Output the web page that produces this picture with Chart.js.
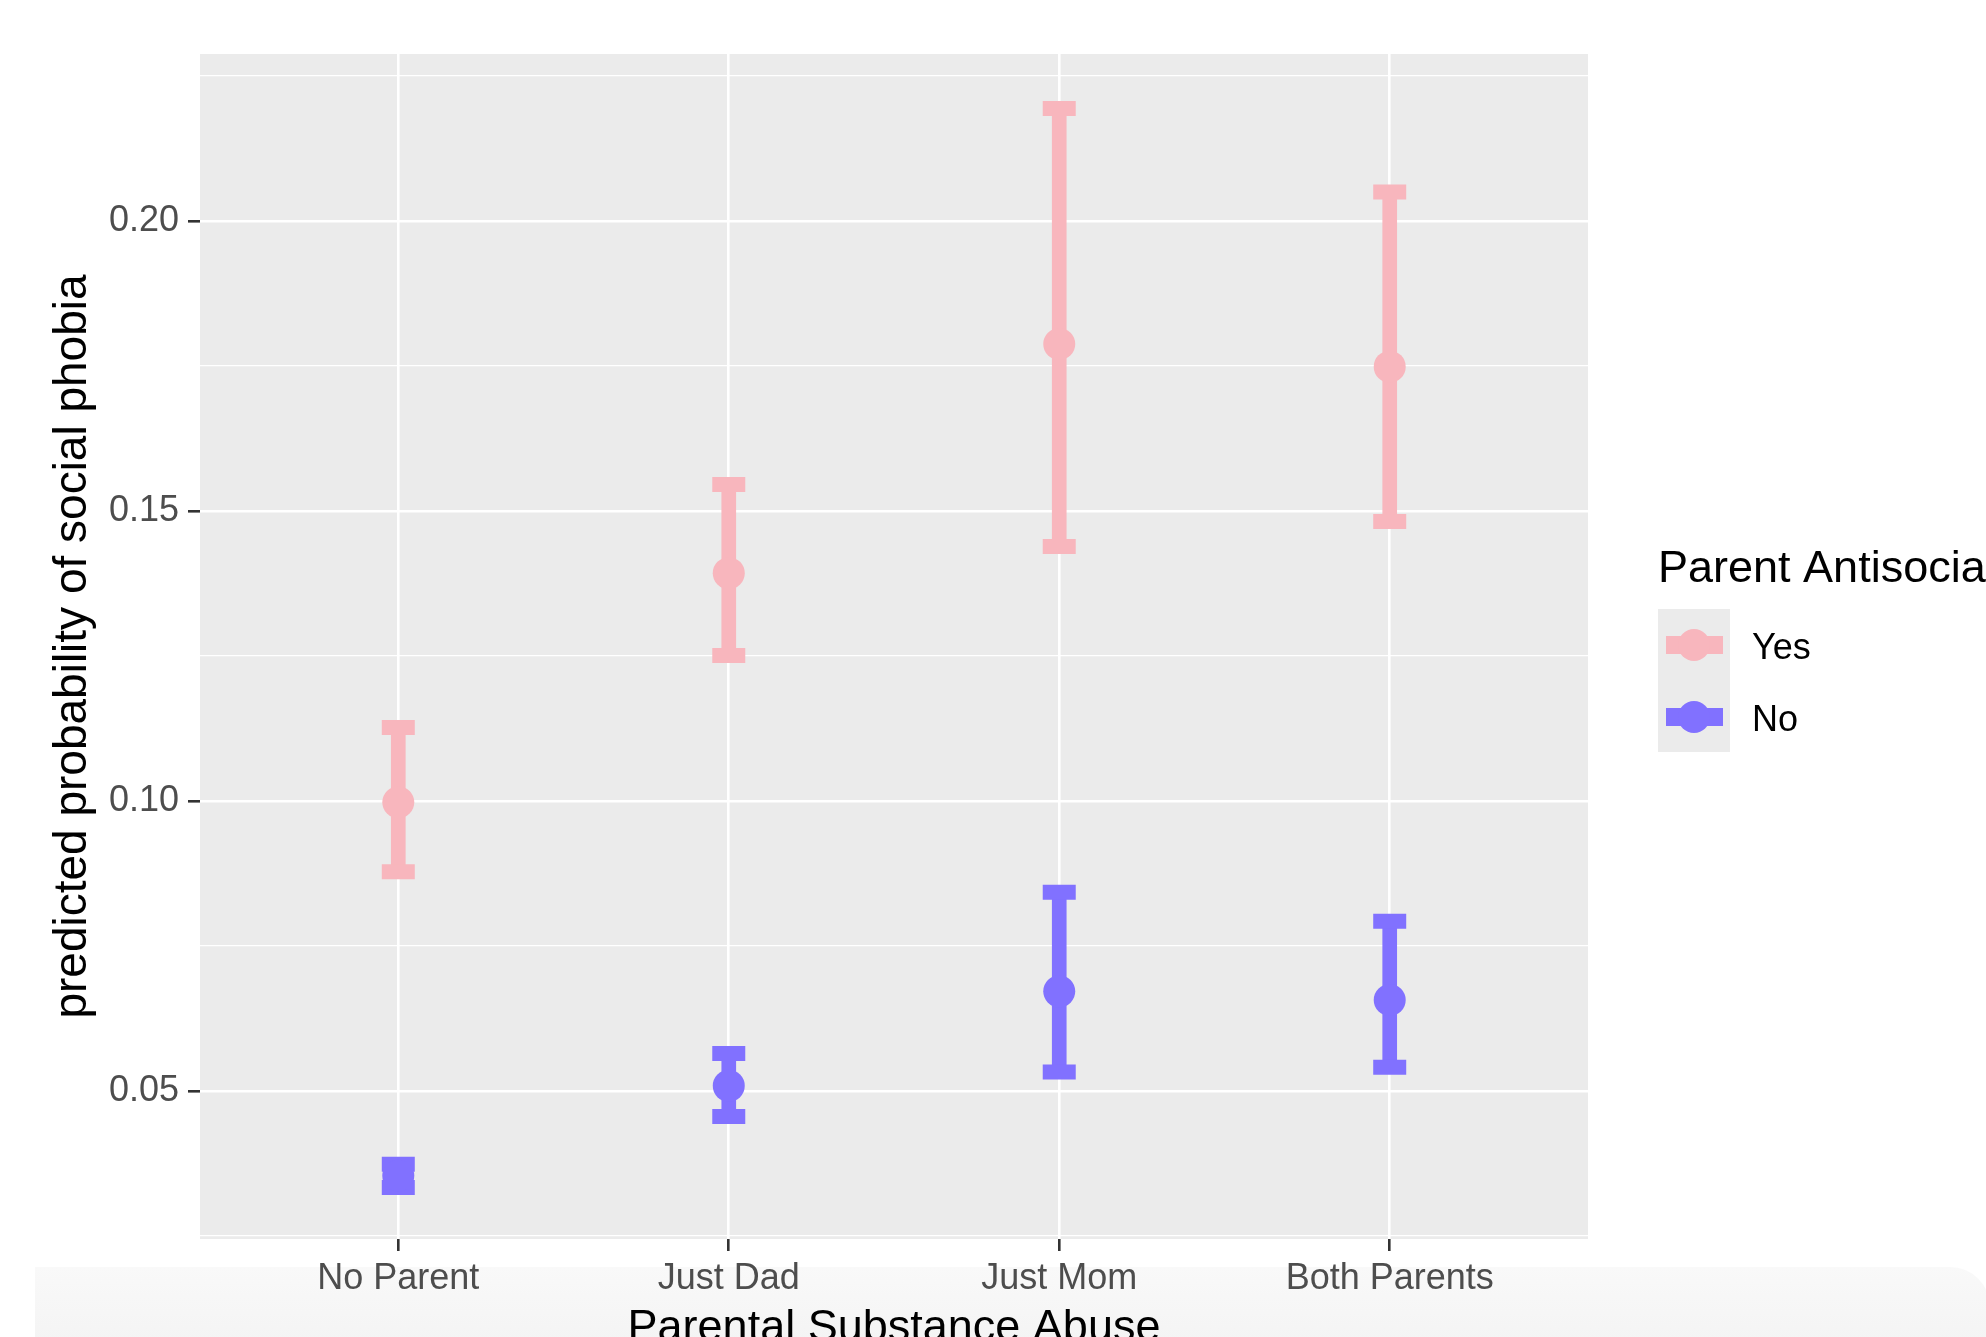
<!DOCTYPE html>
<html>
<head>
<meta charset="utf-8">
<script src="https://cdn.jsdelivr.net/npm/chart.js@4.4.0/dist/chart.umd.min.js"></script>
<style>
  html, body { margin: 0; padding: 0; background: #fff; overflow: hidden; }
  #wrap { position: relative; width: 1986px; height: 1337px; }
  #band {
    position: absolute; left: 35px; top: 1267px; width: 1955px; height: 120px;
    background: linear-gradient(#f9f9f9, #f1f1f1);
    border-top-right-radius: 40px;
  }
  canvas { position: absolute; left: 0; top: 0; }
</style>
</head>
<body>
<div id="wrap">
  <div id="band"></div>
  <canvas id="chart" width="1986" height="1337"></canvas>
</div>
<script>
// categories and values
const categories = ['No Parent', 'Just Dad', 'Just Mom', 'Both Parents'];

const yesMean = [0.0998, 0.1393, 0.1788, 0.1749];
const yesLow  = [0.0878, 0.1251, 0.1439, 0.1482];
const yesHigh = [0.1127, 0.1546, 0.2194, 0.2050];

const noMean = [0.0354, 0.0509, 0.0672, 0.0657];
const noLow  = [0.0334, 0.0456, 0.0533, 0.0541];
const noHigh = [0.0374, 0.0565, 0.0843, 0.0793];

const yMajorTicks = [0.05, 0.10, 0.15, 0.20];
const yMinorTicks = [0.025, 0.075, 0.125, 0.175, 0.225];

const seriesNames = ['Yes', 'No'];
const legendTitle = 'Parent Antisocial';
const xTitle = 'Parental Substance Abuse';
const yTitle = 'predicted probability of social phobia';

const PINK = '#F8B6BD';
const PURPLE = '#8171FF';
const FONT = '"Liberation Sans", Arial, Helvetica, sans-serif';

function isMajor(v) {
  return yMajorTicks.some(m => Math.abs(m - v) < 1e-9);
}

function whiskers(low, high) {
  return categories.map((c, i) => ({ x: i, y: [low[i], high[i]] }));
}
function pointsAt(vals) {
  return categories.map((c, i) => ({ x: i, y: vals[i] }));
}

function capSet(vals, color) {
  return {
    type: 'line', data: pointsAt(vals), showLine: false, order: 1,
    pointStyle: 'line', pointRadius: 16.5, pointBorderWidth: 15,
    pointBorderColor: color, pointBackgroundColor: color
  };
}
function dotSet(vals, color) {
  return {
    type: 'line', data: pointsAt(vals), showLine: false, order: 0,
    pointStyle: 'circle', pointRadius: 16, pointBorderWidth: 0,
    pointBackgroundColor: color, pointBorderColor: color
  };
}
function barSet(low, high, color) {
  return {
    type: 'bar', data: whiskers(low, high), order: 2, grouped: false,
    barThickness: 14, backgroundColor: color, borderWidth: 0
  };
}

// panel background
const panelBg = {
  id: 'panelBg',
  beforeDraw(chart) {
    const a = chart.chartArea;
    const ctx = chart.ctx;
    ctx.save();
    ctx.fillStyle = '#EBEBEB';
    ctx.fillRect(a.left, a.top, a.right - a.left, a.bottom - a.top);
    ctx.restore();
  }
};

// axis titles and legend, ggplot style
const decorations = {
  id: 'decorations',
  afterDraw(chart) {
    const ctx = chart.ctx;
    const a = chart.chartArea;
    ctx.save();
    ctx.fillStyle = '#000';
    ctx.font = '45px ' + FONT;

    // x title
    ctx.textAlign = 'center';
    ctx.textBaseline = 'alphabetic';
    ctx.fillText(xTitle, (a.left + a.right) / 2, 1341);

    // y title
    ctx.save();
    ctx.font = '46px ' + FONT;
    ctx.translate(73, (a.top + a.bottom) / 2);
    ctx.rotate(-Math.PI / 2);
    ctx.textBaseline = 'middle';
    ctx.fillText(yTitle, 0, 0);
    ctx.restore();

    // legend
    ctx.textAlign = 'left';
    ctx.textBaseline = 'middle';
    ctx.fillText(legendTitle, 1658, 570);

    ctx.fillStyle = '#EBEBEB';
    ctx.fillRect(1658, 609, 72, 143);

    const colors = [PINK, PURPLE];
    ctx.font = '36px ' + FONT;
    seriesNames.forEach((name, i) => {
      const cy = 645 + i * 72;
      ctx.fillStyle = colors[i];
      ctx.fillRect(1666, cy - 9, 57, 18);
      ctx.beginPath();
      ctx.arc(1694, cy, 16, 0, Math.PI * 2);
      ctx.fill();
      ctx.fillStyle = '#000';
      ctx.fillText(name, 1752, cy + 4);
    });
    ctx.restore();
  }
};

new Chart(document.getElementById('chart'), {
  type: 'bar',
  data: {
    datasets: [
      barSet(yesLow, yesHigh, PINK),
      barSet(noLow, noHigh, PURPLE),
      capSet(yesLow, PINK), capSet(yesHigh, PINK),
      capSet(noLow, PURPLE), capSet(noHigh, PURPLE),
      dotSet(yesMean, PINK),
      dotSet(noMean, PURPLE)
    ]
  },
  options: {
    responsive: false,
    animation: false,
    devicePixelRatio: 1,
    events: [],
    layout: { padding: { left: 0, right: 398, top: 54, bottom: 0 } },
    plugins: { legend: { display: false }, tooltip: { enabled: false } },
    scales: {
      x: {
        type: 'linear', min: -0.6, max: 3.6, offset: false,
        border: { display: false },
        grid: {
          offset: false, color: '#FFFFFF', lineWidth: 2.6,
          drawTicks: true, tickLength: 12, tickColor: '#333333', tickWidth: 2.6
        },
        afterBuildTicks(scale) {
          scale.ticks = categories.map((c, i) => ({ value: i }));
        },
        afterFit(scale) { scale.height = 98; },
        ticks: {
          color: '#4D4D4D', padding: 6, maxRotation: 0, autoSkip: false,
          font: { family: FONT, size: 36 },
          callback: v => categories[v]
        }
      },
      y: {
        type: 'linear', min: 0.0245, max: 0.2288,
        border: { display: false },
        grid: {
          color: '#FFFFFF',
          lineWidth: c => isMajor(c.tick.value) ? 2.6 : 1.3,
          drawTicks: true, tickLength: 12, tickWidth: 2.6,
          tickColor: c => isMajor(c.tick.value) ? '#333333' : 'rgba(0,0,0,0)'
        },
        afterBuildTicks(scale) {
          scale.ticks = yMinorTicks.concat(yMajorTicks)
            .sort((p, q) => p - q)
            .map(v => ({ value: v }));
        },
        afterFit(scale) { scale.width = 200; },
        ticks: {
          color: '#4D4D4D', padding: 9, autoSkip: false,
          font: { family: FONT, size: 36 },
          callback: v => isMajor(v) ? v.toFixed(2) : ''
        }
      }
    }
  },
  plugins: [panelBg, decorations]
});
</script>
</body>
</html>
